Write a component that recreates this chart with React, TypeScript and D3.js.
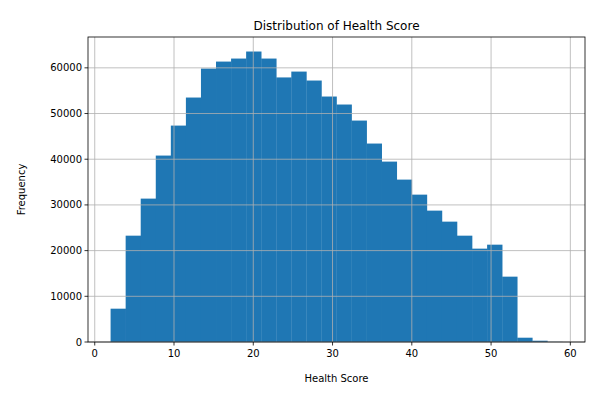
import React from "react";
import * as d3 from "d3";

const binStart = 2.0;
const binWidth = 1.9;
const counts = [7290, 23270, 31380, 40800, 47360, 53500, 59840, 61370, 62030, 63570, 62030, 57900, 59180, 57220, 53720, 51970, 48460, 43430, 39480, 35540, 32250, 28750, 26340, 23270, 20430, 21300, 14300, 940, 280, 30];
const xTicks = [0, 10, 20, 30, 40, 50, 60];
const yTicks = [0, 10000, 20000, 30000, 40000, 50000, 60000];

export default function App() {
  const W = 600, H = 400;
  const L = 88, R = 585, T = 37, B = 342;
  const xMax = binStart + binWidth * counts.length;
  const pad = (xMax - binStart) * 0.05;
  const x = d3.scaleLinear().domain([binStart - pad, xMax + pad]).range([L, R]);
  const yMaxD = (d3.max(counts) as number) * 1.05;
  const y = d3.scaleLinear().domain([0, yMaxD]).range([B, T]);
  const font = "DejaVu Sans, sans-serif";
  return (
    <svg width={W} height={H} style={{ position: "absolute", left: 0, top: 0 }} fontFamily={font}>
      <rect width={W} height={H} fill="#fff" />
      {counts.map((c, i) => {
        const x0 = x(binStart + i * binWidth), x1 = x(binStart + (i + 1) * binWidth);
        return <rect key={i} x={x0} y={y(c)} width={x1 - x0 + 0.3} height={B - y(c)} fill="#1f77b4" />;
      })}
      {xTicks.map(t => <line key={"gx" + t} x1={x(t)} x2={x(t)} y1={T} y2={B} stroke="#b0b0b0" strokeWidth={0.8} />)}
      {yTicks.map(t => <line key={"gy" + t} x1={L} x2={R} y1={y(t)} y2={y(t)} stroke="#b0b0b0" strokeWidth={0.8} />)}
      <rect x={L} y={T} width={R - L} height={B - T} fill="none" stroke="#000" strokeWidth={0.8} />
      {xTicks.map(t => (
        <g key={"xt" + t}>
          <line x1={x(t)} x2={x(t)} y1={B} y2={B + 3.5} stroke="#000" strokeWidth={0.8} />
          <text x={x(t)} y={B + 15} fontSize={10} textAnchor="middle">{t}</text>
        </g>
      ))}
      {yTicks.map(t => (
        <g key={"yt" + t}>
          <line x1={L - 3.5} x2={L} y1={y(t)} y2={y(t)} stroke="#000" strokeWidth={0.8} />
          <text x={L - 6} y={y(t) + 3.5} fontSize={10} textAnchor="end">{t}</text>
        </g>
      ))}
      <text x={(L + R) / 2} y={382} fontSize={10} textAnchor="middle">Health Score</text>
      <text transform={`translate(25,${(T + B) / 2}) rotate(-90)`} fontSize={10} textAnchor="middle">Frequency</text>
      <text x={(L + R) / 2} y={30} fontSize={12} textAnchor="middle">Distribution of Health Score</text>
    </svg>
  );
}
